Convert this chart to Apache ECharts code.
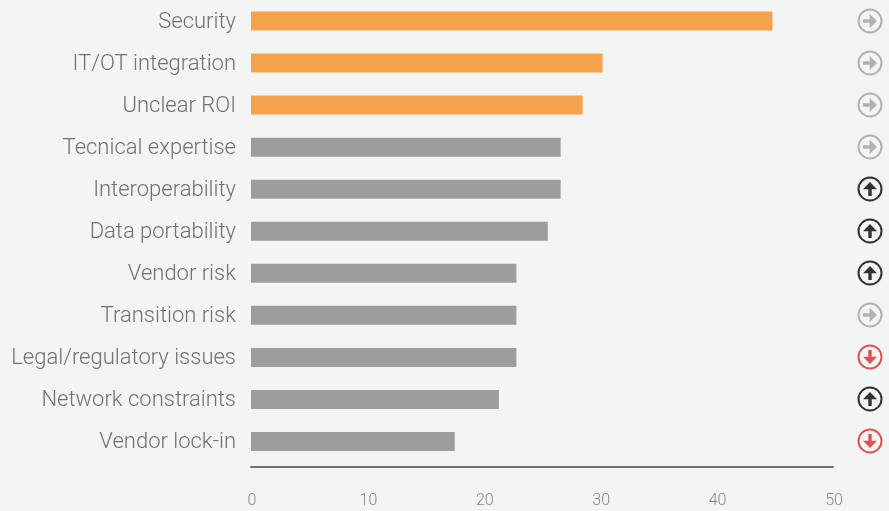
<!DOCTYPE html>
<html><head><meta charset="utf-8">
<style>html,body{margin:0;padding:0;background:#f3f5f4}#c{width:889px;height:511px}</style>
<script src="https://cdn.jsdelivr.net/npm/echarts@6/dist/echarts.min.js"></script>
</head><body><div id="c"></div>
<script>
const categories=["Security","IT/OT integration","Unclear ROI","Tecnical expertise","Interoperability","Data portability","Vendor risk","Transition risk","Legal/regulatory issues","Network constraints","Vendor lock-in"];
const values=[44.8,30.2,28.5,26.6,26.6,25.5,22.8,22.8,22.8,21.3,17.5];
const highlighted=[true,true,true,false,false,false,false,false,false,false,false];
const trends=["flat","flat","flat","flat","up","up","up","flat","down","up","down"];
const xTicks=[0,10,20,30,40,50];
const trendColor={flat:"#9fa1a0",up:"#000000",down:"#d6282b"};
const trendRotate={flat:-90,up:0,down:180};
const arrow="path://M50 0L100 52L62 52L62 100L38 100L38 52L0 52Z";
const chart=echarts.init(document.getElementById("c"),null,{renderer:"canvas"});
chart.setOption({
  backgroundColor:"#f3f5f4",animation:false,
  grid:[{left:251,top:-0.5,width:582,height:463},{left:850,top:-1,width:39,height:463},{left:251,top:1,width:582,height:463}],
  xAxis:[
    {gridIndex:0,type:"value",min:0,max:50,interval:10,offset:4,
     axisLine:{show:true,lineStyle:{color:"#6f716f",width:2}},axisTick:{show:false},splitLine:{show:false},
     axisLabel:{color:"#858786",fontFamily:"Roboto",fontWeight:300,fontSize:16,margin:26,padding:[0,0,0,2],
       formatter:v=>xTicks.includes(v)?String(v):""}},
    {gridIndex:1,type:"value",min:0,max:39,show:false},
    {gridIndex:2,type:"value",min:0,max:50,show:false}
  ],
  yAxis:[
    {gridIndex:0,type:"category",inverse:true,data:categories,
     axisLine:{show:false},axisTick:{show:false},axisLabel:{show:false}},
    {gridIndex:1,type:"category",inverse:true,data:categories,show:false},
    {gridIndex:2,type:"category",inverse:true,data:categories,
     axisLine:{show:false},axisTick:{show:false},
     axisLabel:{color:"#6f7170",fontFamily:"Roboto",fontWeight:300,fontSize:22,margin:15}}
  ],
  series:[
    {type:"bar",xAxisIndex:0,yAxisIndex:0,barWidth:19,silent:true,
     data:values.map((v,i)=>({value:v,itemStyle:{color:highlighted[i]?"#f6a14c":"#9c9e9d"}}))},
    {type:"scatter",xAxisIndex:1,yAxisIndex:1,symbol:"circle",symbolSize:23,silent:true,
     data:trends.map((t,i)=>({value:[20,i],itemStyle:{color:"rgba(0,0,0,0)",borderColor:trendColor[t],borderWidth:2}}))},
    {type:"scatter",xAxisIndex:1,yAxisIndex:1,symbol:arrow,symbolSize:[14,14],silent:true,
     data:trends.map((t,i)=>({value:[20,i],symbolRotate:trendRotate[t],itemStyle:{color:trendColor[t]}}))}
  ]
});
</script></body></html>
